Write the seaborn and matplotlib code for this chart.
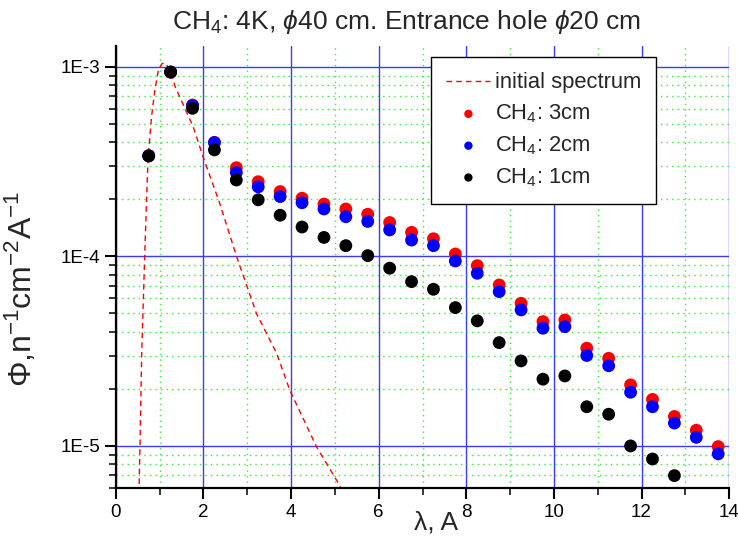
import numpy as np
import pandas as pd
import seaborn as sns
import matplotlib.pyplot as plt
from matplotlib.ticker import MultipleLocator, LogLocator, FuncFormatter

# ---------------------------------------------------------------------------
# data
# ---------------------------------------------------------------------------
lam = [0.75, 1.25, 1.75, 2.25, 2.75, 3.25, 3.75, 4.25, 4.75, 5.25, 5.75,
       6.25, 6.75, 7.25, 7.75, 8.25, 8.75, 9.25, 9.75, 10.25, 10.75, 11.25,
       11.75, 12.25, 12.75, 13.25, 13.75]

flux_3cm = [3.4e-4, 9.4e-4, 6.3e-4, 4.0e-4, 2.94e-4, 2.48e-4, 2.20e-4, 2.03e-4,
            1.89e-4, 1.78e-4, 1.67e-4, 1.51e-4, 1.34e-4, 1.24e-4, 1.03e-4,
            8.94e-5, 7.07e-5, 5.66e-5, 4.53e-5, 4.62e-5, 3.28e-5, 2.90e-5,
            2.10e-5, 1.76e-5, 1.43e-5, 1.21e-5, 9.92e-6]
flux_2cm = [3.4e-4, 9.4e-4, 6.25e-4, 3.99e-4, 2.77e-4, 2.33e-4, 2.07e-4, 1.92e-4,
            1.78e-4, 1.62e-4, 1.53e-4, 1.38e-4, 1.22e-4, 1.14e-4, 9.46e-5,
            8.15e-5, 6.52e-5, 5.22e-5, 4.18e-5, 4.26e-5, 3.00e-5, 2.65e-5,
            1.92e-5, 1.61e-5, 1.32e-5, 1.11e-5, 9.08e-6]
flux_1cm = [3.39e-4, 9.4e-4, 6.05e-4, 3.65e-4, 2.53e-4, 1.99e-4, 1.65e-4, 1.43e-4,
            1.26e-4, 1.14e-4, 1.01e-4, 8.67e-5, 7.36e-5, 6.71e-5, 5.37e-5,
            4.57e-5, 3.51e-5, 2.81e-5, 2.25e-5, 2.34e-5, 1.61e-5, 1.47e-5,
            1.00e-5, 8.53e-6, 6.97e-6, 5.6e-6, 4.6e-6]

# initial spectrum (dashed curve)
lam_init = [0.52, 0.53, 0.55, 0.59, 0.66, 0.72, 0.75, 0.815, 0.89, 0.97, 1.05,
            1.12, 1.25, 1.35, 1.77, 1.99, 2.37, 2.755, 3.21, 3.67, 3.97, 4.58,
            5.08, 5.2]
flux_init = [5.6e-6, 6.1e-6, 9.9e-6, 3.1e-5, 1.04e-4, 2.7e-4, 3.65e-4, 5.47e-4,
             7.56e-4, 9.6e-4, 1.04e-3, 1.05e-3, 9.6e-4, 7.9e-4, 4.8e-4, 3.36e-4,
             1.91e-4, 1.0e-4, 5.0e-5, 3.08e-5, 1.97e-5, 9.9e-6, 6.35e-6, 5.6e-6]

series = [("CH$_4$: 3cm", flux_3cm, "#ff0000"),
          ("CH$_4$: 2cm", flux_2cm, "#0000ff"),
          ("CH$_4$: 1cm", flux_1cm, "#000000")]

# ---------------------------------------------------------------------------
# style
# ---------------------------------------------------------------------------
sns.set_style("white")
plt.rcParams['font.family'] = ['Liberation Sans', 'DejaVu Sans']
plt.rcParams['mathtext.fontset'] = 'custom'
plt.rcParams['mathtext.rm'] = 'Liberation Sans'
plt.rcParams['mathtext.it'] = 'Liberation Sans:italic'

fig = plt.figure(figsize=(7.38, 5.38), dpi=100)
ax = fig.add_axes([0.157, 0.093, 0.831, 0.8215])
ax.set_yscale('log')

sns.lineplot(x=lam_init, y=flux_init, ax=ax, color='#ff0000', lw=1.0,
             linestyle=(0, (4, 3)), label='initial spectrum', sort=False)

for name, vals, col in series:
    sns.scatterplot(x=lam, y=vals, ax=ax, color=col, s=85, edgecolor='none',
                    label=name, zorder=3)

ax.set_xlim(0, 14)
ax.set_ylim(6.0e-6, 1.29e-3)

ax.xaxis.set_major_locator(MultipleLocator(2))
ax.xaxis.set_minor_locator(MultipleLocator(1))
ax.yaxis.set_major_locator(LogLocator(base=10, numticks=10))
ax.yaxis.set_minor_locator(LogLocator(base=10, subs=np.arange(2, 10), numticks=20))
ax.yaxis.set_major_formatter(FuncFormatter(lambda v, p: "1E%d" % round(np.log10(v))))
ax.yaxis.set_minor_formatter(FuncFormatter(lambda v, p: ""))

ax.grid(which='major', color='#3a3aff', lw=1.0, ls='-', zorder=0)
ax.grid(which='minor', color='#33ee33', lw=1.0, ls=(0, (1, 3)), zorder=0)
ax.set_axisbelow(True)

for side in ['top', 'right']:
    ax.spines[side].set_visible(False)
for side in ['left', 'bottom']:
    ax.spines[side].set_color('black')
    ax.spines[side].set_linewidth(1.6)

ax.tick_params(which='major', direction='out', length=8, width=1.5,
               labelsize=13.5, colors='black', bottom=True, left=True)
ax.tick_params(which='minor', direction='out', length=5, width=1.3,
               bottom=True, left=True)

# the tick label "8" sits right after the "A" of the x label, as in the original
ax.set_xlabel("λ, A", fontsize=19)
ax.xaxis.set_label_coords(0.522, -0.05)
ax.set_ylabel("Φ,n$^{-1}$cm$^{-2}$A$^{-1}$", fontsize=23)
ax.yaxis.set_label_coords(-0.125, 0.45)
ax.set_title("CH$_4$: 4K, $\\phi$40 cm. Entrance hole $\\phi$20 cm",
             fontsize=19, pad=12, x=0.473)

leg = ax.legend(loc='upper left', bbox_to_anchor=(0.514, 0.975),
                borderaxespad=0, fontsize=15.8, frameon=True, fancybox=False,
                edgecolor='black', framealpha=1, handlelength=2.0,
                handletextpad=0.2, labelspacing=0.42, borderpad=0.7,
                markerscale=0.65)
leg.get_frame().set_linewidth(1.0)

fig.savefig('out.png', dpi=100)
